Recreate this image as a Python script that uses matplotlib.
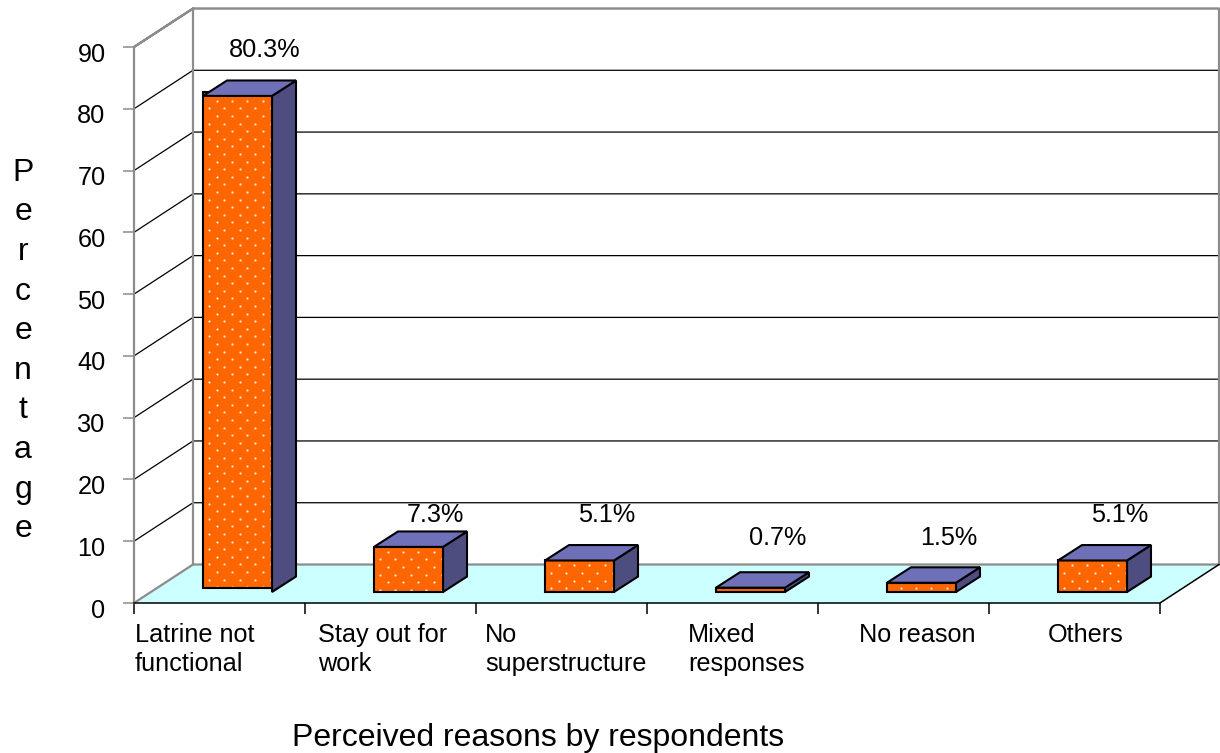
import numpy as np
import matplotlib
matplotlib.use('Agg')
import matplotlib.pyplot as plt
from matplotlib.patches import Polygon, Rectangle
from matplotlib.transforms import ScaledTranslation

plt.rcParams['font.family'] = ['Liberation Sans', 'DejaVu Sans']

# data
reasons = ['Latrine not\nfunctional', 'Stay out for\nwork', 'No\nsuperstructure',
           'Mixed\nresponses', 'No reason', 'Others']
percent = [80.3, 7.3, 5.1, 0.7, 1.5, 5.1]
percent_labels = ['80.3%', '7.3%', '5.1%', '0.7%', '1.5%', '5.1%']
y_ticks = [0, 10, 20, 30, 40, 50, 60, 70, 80, 90]

# where the texts sit, in axis units
reason_x = [0.006, 1.076, 2.053, 3.24, 4.24, 5.345]
label_y = [89.5, 14.2, 14.2, 10.5, 10.5, 14.2]

# 3d look
WALL_DX, WALL_DY = 59 / 171, 6.23
BAR_LEFT, BAR_W = 0.4035, 0.4035
BAR_BASE = 1.78
BAR_DX, BAR_DY = 24 / 171, 2.5
ORANGE, TOP, SIDE = '#FF6600', '#7070B8', '#4D4D80'
FLOOR, GRAY = '#CCFFFF', '#8C8C8C'

fig = plt.figure(figsize=(12.2, 7.53), dpi=100)
ax = fig.add_axes([134 / 1220, 1 - 603 / 753, 1026 / 1220, 556 / 753])
ax.set_xlim(0, 6)
ax.set_ylim(0, 90)
ax.patch.set_visible(False)
for s in ax.spines.values():
    s.set_visible(False)

# floor
ax.add_patch(Polygon([(0, 0), (WALL_DX, WALL_DY), (6 + WALL_DX, WALL_DY), (6, 0)],
                     fc=FLOOR, ec='none', clip_on=False, zorder=1))

# gridlines on the back wall and the side wall
for v in y_ticks[1:]:
    ax.plot([0, WALL_DX, 6 + WALL_DX], [v, v + WALL_DY, v + WALL_DY], color='black', lw=0.9,
            clip_on=False, zorder=2)

# wall outline
ax.plot([0, 0, WALL_DX, 6 + WALL_DX, 6 + WALL_DX, WALL_DX, WALL_DX, 0],
        [0, 90, 90 + WALL_DY, 90 + WALL_DY, WALL_DY, WALL_DY, 90 + WALL_DY, 90],
        color=GRAY, lw=1.6, clip_on=False, zorder=3)
ax.plot([0, WALL_DX], [0, WALL_DY], color=GRAY, lw=1.6, clip_on=False, zorder=3)

# front edges of the floor
ax.plot([0, 6, 6 + WALL_DX], [0, 0, WALL_DY], color='black', lw=1.1, clip_on=False, zorder=3)

# bars
for i, v in enumerate(percent):
    x0 = i + BAR_LEFT
    x1 = x0 + BAR_W
    y0 = BAR_BASE
    y1 = y0 + v
    # the tall bar's front sits slightly higher than its side face
    shift = 0.65 if i == 0 else 0
    z = 5 + i

    ax.add_patch(Polygon([(x1, y0), (x1 + BAR_DX, y0 + BAR_DY), (x1 + BAR_DX, y1 + BAR_DY), (x1, y1)],
                         fc=SIDE, ec='black', lw=1.5, joinstyle='miter', clip_on=False, zorder=z))
    front = Rectangle((x0, y0 + shift), BAR_W, v, fc=ORANGE, ec='none', clip_on=False, zorder=z)
    ax.add_patch(front)

    # white dots on the front face
    rows = np.arange(y1 - 0.8, y0 - 0.5, -1.23)
    for r, ry in enumerate(rows):
        start = 0.08 if r % 2 == 0 else 0.035
        xs = x0 + np.arange(start, BAR_W, 0.09)
        dots = ax.scatter(xs, np.full_like(xs, ry), s=2.6, color='#FFE8D8', linewidths=0, zorder=z + 0.1)
        dots.set_clip_path(front)

    # outline goes on top so the dots stay inside it
    ax.add_patch(Rectangle((x0, y0 + shift), BAR_W, v, fc='none', ec='black', lw=1.5,
                           joinstyle='miter', clip_on=False, zorder=z + 0.15))
    ax.add_patch(Polygon([(x0, y1), (x1, y1), (x1 + BAR_DX, y1 + BAR_DY), (x0 + BAR_DX, y1 + BAR_DY)],
                         fc=TOP, ec='black', lw=1.5, joinstyle='miter', clip_on=False, zorder=z + 0.2))

    ax.text(i + 0.762, label_y[i], percent_labels[i], ha='center', va='center', fontsize=18.2,
            clip_on=False, zorder=20)

# axes ticks and labels
ax.set_yticks(y_ticks)
ax.set_xticks(range(7))
ax.set_xticklabels([])
ax.tick_params(axis='y', length=8, width=1.1, color=GRAY, labelsize=18.2, pad=12.5)
ax.tick_params(axis='x', length=8, width=1.1, color='black')

# the numbers hang a little below their ticks
down = ScaledTranslation(0, -5 / 100, fig.dpi_scale_trans)
for lab in ax.get_yticklabels():
    lab.set_transform(lab.get_transform() + down)

for x, name in zip(reason_x, reasons):
    ax.text(x, -3.2, name, ha='left', va='top', fontsize=18.2, linespacing=1.25, clip_on=False)

fig.text(538 / 1220, 1 - 738 / 753, 'Perceived reasons by respondents', ha='center', va='center', fontsize=23)
fig.text(23 / 1220, 1 - 351 / 753, '\n'.join('Percentage'), ha='center', va='center', fontsize=23,
         linespacing=1.42)

fig.savefig('out.png', dpi=100)
